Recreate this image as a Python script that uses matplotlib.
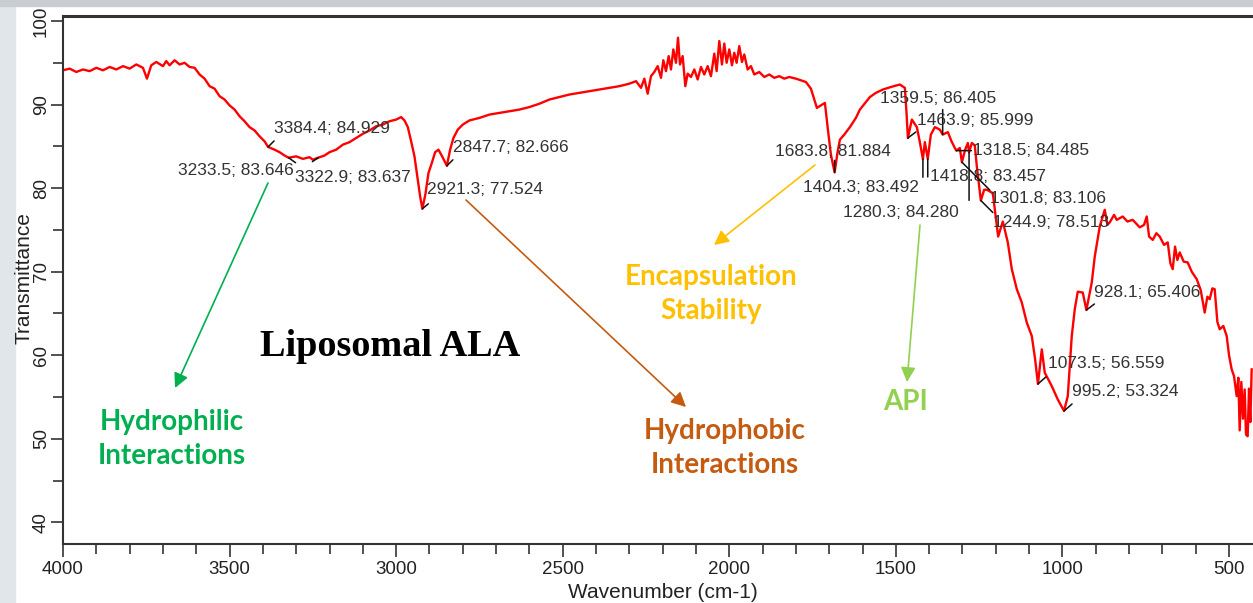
import matplotlib
matplotlib.use("Agg")
import matplotlib.pyplot as plt
from matplotlib.patches import Rectangle, FancyArrowPatch
from matplotlib.ticker import MultipleLocator

# FTIR spectrum of liposomal ALA
wavenumber = [4000, 3980, 3960, 3940, 3920, 3900, 3880, 3860, 3840, 3820, 3800, 3780, 3760, 3748,
              3735, 3720, 3700, 3690, 3680, 3665, 3650, 3635, 3620, 3605, 3590, 3575, 3560, 3545,
              3530, 3515, 3500, 3485, 3470, 3455, 3440, 3425, 3410, 3395, 3384.4, 3365, 3350, 3335,
              3322.9, 3300, 3280, 3260, 3250, 3233.5, 3215, 3200, 3180, 3160, 3140, 3120, 3100,
              3080, 3060, 3040, 3020, 3000, 2985, 2975, 2965, 2955, 2945, 2935, 2928, 2921.3, 2912,
              2903, 2893, 2883, 2873, 2862, 2847.7, 2838, 2828, 2815, 2800, 2780, 2750, 2720, 2690,
              2660, 2630, 2600, 2570, 2540, 2510, 2480, 2450, 2420, 2390, 2360, 2330, 2300, 2280,
              2265, 2255, 2245, 2235, 2225, 2215, 2205, 2198, 2190, 2182, 2175, 2168, 2160, 2154,
              2148, 2140, 2132, 2125, 2115, 2105, 2095, 2085, 2075, 2065, 2055, 2045, 2038, 2030,
              2022, 2015, 2008, 2000, 1992, 1985, 1978, 1970, 1962, 1955, 1945, 1935, 1925, 1910,
              1895, 1880, 1865, 1850, 1835, 1820, 1800, 1785, 1770, 1755, 1745, 1737, 1725, 1713,
              1704, 1695, 1683.8, 1675, 1668, 1655, 1638, 1620, 1608, 1590, 1578, 1560, 1539, 1515,
              1488, 1473, 1468, 1463.9, 1452, 1437, 1428, 1418.8, 1413, 1404.3, 1395, 1383, 1368,
              1359.5, 1344, 1333, 1323, 1318.5, 1308, 1301.8, 1292, 1284, 1280.3, 1272, 1263, 1257,
              1244.9, 1235, 1227, 1209, 1200, 1193, 1179, 1164, 1152, 1137, 1122, 1107, 1092, 1082,
              1073.5, 1062, 1053, 1032, 1014, 995.2, 984, 972, 963, 954, 939, 928.1, 912, 903, 888,
              873, 865, 858, 845, 837, 819, 805, 789, 775, 768, 755, 747, 740, 729, 718, 708, 695,
              684, 676, 669, 662, 655, 648, 636, 624, 612, 597, 585, 573, 565, 558, 550, 543, 535,
              528, 517, 507, 500, 492, 485, 477, 472, 468, 463, 458, 453, 449, 444, 440, 436, 432]
transmittance = [94.1, 94.3, 93.9, 94.2, 94.0, 94.4, 94.1, 94.5, 94.2, 94.6, 94.3, 94.8, 94.4, 93.1,
                 94.7, 95.1, 94.6, 95.2, 94.7, 95.3, 94.8, 95.0, 94.5, 94.4, 93.6, 93.1, 92.2, 91.9,
                 91.0, 90.6, 89.9, 89.4, 88.6, 88.0, 87.3, 86.9, 86.2, 85.6, 84.929, 84.6, 84.3, 83.9,
                 83.637, 83.8, 83.5, 83.7, 83.4, 83.646, 83.9, 84.3, 84.6, 85.2, 85.5, 86.0, 86.5,
                 86.9, 87.4, 87.6, 88.0, 88.2, 88.5, 88.1, 87.3, 85.6, 83.8, 81.0, 79.0, 77.524, 79.3,
                 81.8, 83.0, 84.3, 84.6, 83.8, 82.666, 84.6, 86.0, 87.0, 87.6, 88.1, 88.4, 88.8, 89.0,
                 89.2, 89.4, 89.7, 90.1, 90.6, 90.9, 91.2, 91.4, 91.6, 91.8, 92.0, 92.2, 92.5, 92.8,
                 92.0, 93.1, 91.3, 93.4, 93.9, 94.6, 93.2, 95.3, 94.0, 95.8, 94.2, 96.6, 95.0, 98.0,
                 94.8, 95.8, 92.2, 93.7, 93.3, 94.2, 93.0, 94.5, 93.6, 94.6, 93.4, 96.1, 94.0, 97.6,
                 94.8, 97.3, 95.0, 96.6, 94.7, 96.2, 95.0, 97.0, 95.1, 96.0, 94.2, 94.6, 93.6, 93.9,
                 93.3, 93.6, 93.2, 93.4, 93.1, 93.3, 93.1, 92.9, 92.7, 91.9, 90.6, 89.6, 89.9, 90.2,
                 87.0, 84.0, 81.884, 84.3, 85.8, 86.4, 87.3, 88.4, 89.4, 90.3, 90.9, 91.4, 91.8, 92.1,
                 92.4, 92.0, 89.0, 85.999, 88.2, 87.3, 85.5, 83.457, 85.5, 83.492, 86.4, 87.3, 87.0,
                 86.405, 86.7, 85.6, 84.8, 84.485, 84.8, 83.106, 84.6, 85.4, 84.280, 85.4, 85.1, 82.6,
                 78.513, 79.8, 79.8, 79.4, 76.5, 74.2, 76.0, 73.5, 70.3, 67.9, 66.3, 63.9, 62.3, 59.5,
                 56.559, 60.7, 57.9, 56.3, 54.7, 53.324, 55.1, 62.3, 65.5, 67.6, 67.5, 65.406, 68.7,
                 71.8, 75.4, 77.4, 75.6, 75.9, 76.8, 76.2, 76.6, 76.0, 76.2, 75.6, 75.3, 75.6, 76.6,
                 74.2, 73.8, 74.6, 74.2, 73.2, 73.5, 71.0, 70.3, 73.0, 71.4, 72.3, 71.2, 71.1, 70.0,
                 69.1, 67.8, 65.1, 67.0, 66.7, 68.0, 67.9, 64.0, 63.1, 63.5, 62.3, 60.0, 58.3, 57.5,
                 55.1, 57.3, 51.0, 56.8, 52.4, 55.9, 50.5, 50.3, 56.0, 52.0, 58.3]

# labelled peaks
peak_wn = [3384.4, 3233.5, 3322.9, 2921.3, 2847.7, 1683.8, 1404.3, 1359.5, 1463.9,
           1418.8, 1318.5, 1280.3, 1301.8, 1244.9, 928.1, 1073.5, 995.2]
peak_t = [84.929, 83.646, 83.637, 77.524, 82.666, 81.884, 83.492, 86.405, 85.999,
          83.457, 84.485, 84.280, 83.106, 78.513, 65.406, 56.559, 53.324]

# label offset (px), alignment, and marker tick vector (px)
lab_off = [(6, 18, 'left'), (-25, -13, 'right'), (6, -20, 'left'), (5, 19, 'left'),
           (6, 18, 'left'), (-60, 21, 'left'), (-125, -29, 'left'), (-63, 36, 'left'),
           (9, 17, 'left'), (7, -17, 'left'), (17, 0, 'left'), (-126, -60, 'left'),
           (28, -36, 'left'), (12, -22, 'left'), (8, 18, 'left'), (10, 20, 'left'), (8, 19, 'left')]
tick_vec = [(6, 6), (-6, -4), (7, -5), (6, 5), (6, 6), (0, 12), (0, -18), (0, 25), (8, 6),
            (0, -18), (15, 0), (0, -48), (28, -28), (12, -12), (8, 6), (8, 7), (8, 7)]

W, H = 1253, 603
fig = plt.figure(figsize=(W / 100, H / 100), dpi=100)
fig.patch.set_facecolor('white')
fig.patches.append(Rectangle((0, 0), 15 / W, 1, transform=fig.transFigure, color='#e1e6ea', zorder=-5))
fig.patches.append(Rectangle((0, 1 - 6 / H), 1, 6 / H, transform=fig.transFigure, color='#c9cdd2', zorder=-5))

ax = fig.add_axes([63 / W, 59 / H, 1 - 63 / W, 528 / H])
ax.plot(wavenumber, transmittance, color='#ff0000', lw=1.7)
ax.set_xlim(4000, 428)
ax.set_ylim(37.4, 100.6)

for s in ['left', 'bottom', 'top']:
    ax.spines[s].set_color('#333333')
    ax.spines[s].set_linewidth(1.5)
ax.spines['top'].set_linewidth(2.2)
ax.spines['right'].set_visible(False)

ax.xaxis.set_major_locator(MultipleLocator(500))
ax.xaxis.set_minor_locator(MultipleLocator(100))
ax.yaxis.set_major_locator(MultipleLocator(10))
ax.yaxis.set_minor_locator(MultipleLocator(5))
ax.tick_params(which='major', length=9, width=1.2, color='#333333', labelsize=13.5,
               labelcolor='#222222')
ax.tick_params(which='minor', length=7.5, width=1.2, color='#333333')
ax.tick_params(axis='y', which='major', length=8.5, labelrotation=90, pad=1)
for lab in ax.get_xticklabels() + ax.get_yticklabels():
    lab.set_fontfamily('Liberation Sans')
for lab in ax.get_yticklabels():
    lab.set_va('center')

fig.text(24 / W, 1 - 278 / H, 'Transmittance', rotation=90, ha='center', va='center',
         fontsize=15, family='Liberation Sans', color='#222222')
fig.text(663 / W, 1 - 592 / H, 'Wavenumber (cm-1)', ha='center', va='center',
         fontsize=15, family='Liberation Sans', color='#222222')

# peak labels
for wn, t, (dx, dy, ha), (mx, my) in zip(peak_wn, peak_t, lab_off, tick_vec):
    ax.annotate('', xy=(wn, t), xytext=(mx, my), textcoords='offset pixels',
                arrowprops=dict(arrowstyle='-', color='#111111', lw=1.1, shrinkA=0, shrinkB=0))
    ax.annotate(f'{wn}; {t:.3f}', xy=(wn, t), xytext=(dx, dy), textcoords='offset pixels',
                ha=ha, va='center', fontsize=12.5, family='Liberation Sans', color='#333333')

fig.text(390 / W, 1 - 347 / H, 'Liposomal ALA', ha='center', va='center', fontsize=27.5,
         fontweight='bold', family='Liberation Serif', color='black')

# interpretation callouts
callouts = [('Hydrophilic\nInteractions', '#00b050', (172, 439), (268, 183), (175, 388)),
            ('Hydrophobic\nInteractions', '#c55a11', (725, 448), (466, 200), (686, 407)),
            ('Encapsulation\nStability', '#ffc000', (711, 294), (815, 165), (714, 245)),
            ('API', '#92d050', (906, 402), (920, 225), (907, 382))]
for txt, col, (tx, ty), (ax0, ay0), (ax1, ay1) in callouts:
    fig.text(tx / W, 1 - ty / H, txt, ha='center', va='center', fontsize=20,
             fontweight='bold', family='Lato', color=col, linespacing=1.42)
    fig.add_artist(FancyArrowPatch(
        (ax0 / W, 1 - ay0 / H), (ax1 / W, 1 - ay1 / H), transform=fig.transFigure,
        arrowstyle='-|>', mutation_scale=22, color=col, lw=1.2, shrinkA=0, shrinkB=0))

fig.savefig('out.png', dpi=100)
